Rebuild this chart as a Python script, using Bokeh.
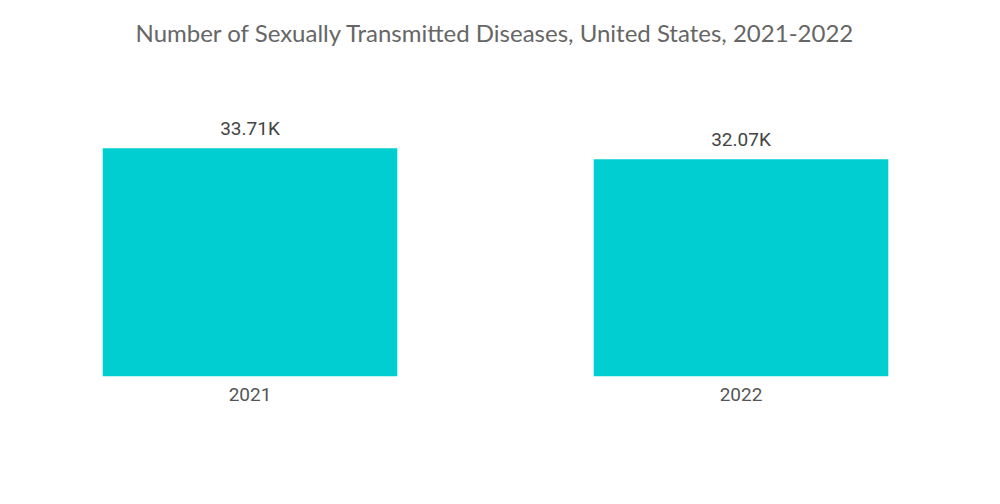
from bokeh.plotting import figure
from bokeh.models import ColumnDataSource, Range1d, LabelSet
from bokeh.core.properties import value
from bokeh.embed import file_html
from bokeh.resources import INLINE

years = ["2021", "2022"]
cases = [33710, 32070]
labels = [f"{v/1000:.2f}K" for v in cases]
title_text = "Number of Sexually Transmitted Diseases, United States, 2021-2022"

src = ColumnDataSource(dict(year=years, cases=cases, label=labels))

p = figure(x_range=years, y_range=Range1d(0, 43700), width=986, height=496,
           output_backend="svg", toolbar_location=None,
           min_border_left=4, min_border_right=0, min_border_top=80, min_border_bottom=120)
p.x_range.range_padding = 0
p.title.text = title_text + "\n\u00a0"
p.title.align = "center"
p.title.vertical_align = "top"
p.title.text_font = "Lato"
p.title.text_font_size = "24px"
p.title.text_font_style = "normal"
p.title.text_color = "#666666"
p.title.standoff = 6

p.vbar(x="year", top="cases", width=0.6, source=src, color="#00CED1", line_color=None)
p.add_layout(LabelSet(x="year", y="cases", text="label", source=src, text_align="center",
                      text_baseline="bottom", y_offset=8, text_font_size="19px",
                      text_font=value("Roboto"), text_color="#444444"))

p.yaxis.visible = False
p.xaxis.axis_line_color = None
p.xaxis.major_tick_line_color = None
p.xaxis.minor_tick_line_color = None
p.xaxis.major_label_text_font = "Roboto"
p.xaxis.major_label_text_font_size = "19px"
p.xaxis.major_label_text_color = "#555555"
p.xaxis.major_label_standoff = 5
p.xgrid.grid_line_color = None
p.ygrid.grid_line_color = None
p.outline_line_color = None

open("out.html", "w").write(file_html(p, INLINE))
